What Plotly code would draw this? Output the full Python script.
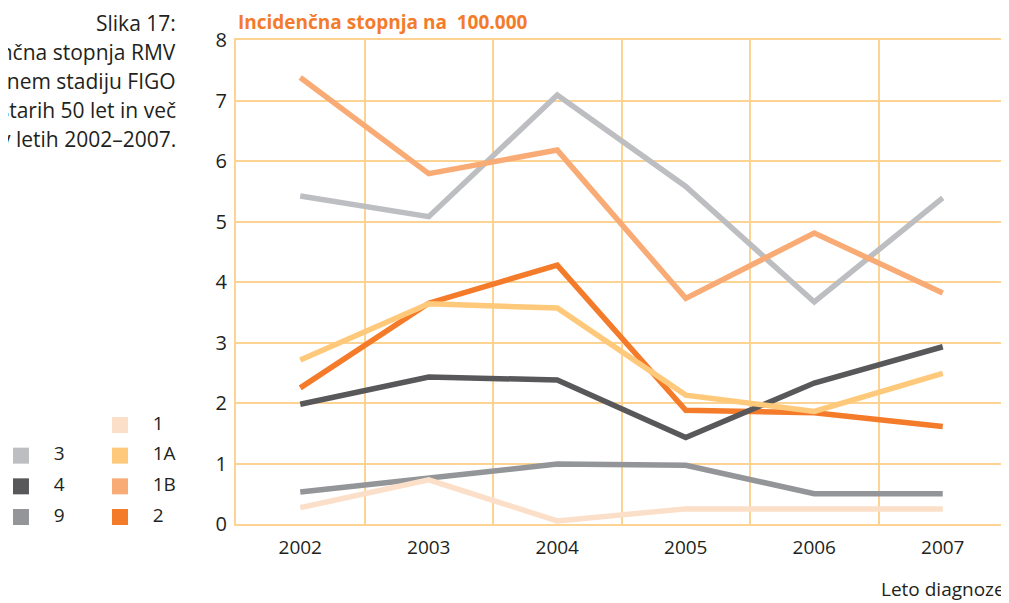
import plotly.graph_objects as go

# data
years = [2002, 2003, 2004, 2005, 2006, 2007]
stage_3 = [5.42, 5.08, 7.09, 5.58, 3.67, 5.39]
stage_1b = [7.38, 5.79, 6.18, 3.73, 4.81, 3.82]
stage_9 = [0.53, 0.77, 0.99, 0.97, 0.50, 0.50]
stage_1 = [0.27, 0.73, 0.05, 0.25, 0.25, 0.25]
stage_2 = [2.25, 3.65, 4.28, 1.88, 1.84, 1.61]
stage_4 = [1.98, 2.43, 2.38, 1.43, 2.33, 2.93]
stage_1a = [2.71, 3.64, 3.57, 2.13, 1.86, 2.49]
y_ticks = [0, 1, 2, 3, 4, 5, 6, 7, 8]

legend_left = ['3', '4', '9']
legend_right = ['1', '1A', '1B', '2']

caption = ['Slika 17:', 'Incidenčna stopnja RMV', 'v začetnem stadiju FIGO',
           'pri ženskah, starih 50 let in več', 'v letih 2002–2007.']

colors = {'1': '#FCDFC8', '1A': '#FEC97A', '1B': '#F9AB76', '2': '#F47B2A',
          '3': '#BDBEC1', '4': '#58585A', '9': '#939598'}
grid_color = '#FDD394'
text_color = '#231F20'
font = 'Myriad Pro, Open Sans, Noto Sans, sans-serif'

# the page adds an 8px body margin, so the figure is drawn 8px smaller
W, H = 1001, 595
PW, PH = 999, 484  # plotting paper size


def px_x(x):
    return (x - 8) / PW


def px_y(y):
    return (524 - y) / PH


fig = go.Figure()

# drawing order bottom -> top
series = [('3', stage_3), ('1B', stage_1b), ('9', stage_9), ('1', stage_1),
          ('2', stage_2), ('4', stage_4), ('1A', stage_1a)]
for name, vals in series:
    fig.add_trace(go.Scatter(x=years, y=vals, mode='lines', name=name, showlegend=False,
                             line=dict(color=colors[name], width=5.5), cliponaxis=False))

# legend drawn on a hidden helper axis
for col, keys, rows in [(0, legend_left, [1, 2, 3]), (1, legend_right, [0, 1, 2, 3])]:
    fig.add_trace(go.Scatter(x=[col] * len(keys), y=rows, xaxis='x2', yaxis='y2', mode='markers',
                             marker=dict(symbol='square', size=16, color=[colors[k] for k in keys]),
                             showlegend=False, hoverinfo='skip', cliponaxis=False))
    fig.add_trace(go.Scatter(x=[col + 0.33] * len(keys), y=rows, xaxis='x2', yaxis='y2',
                             mode='text', text=keys, textposition='middle right',
                             textfont=dict(size=19, color=text_color, family=font),
                             showlegend=False, hoverinfo='skip', cliponaxis=False))

annotations = [
    dict(text='<b>Incidenčna stopnja na\u00a0 100.000</b>', xref='paper', yref='paper',
         x=px_x(236), y=px_y(22), xanchor='left', yanchor='middle', showarrow=False,
         font=dict(size=19, color='#F47B2A', family=font)),
    dict(text='Leto diagnoze', xref='paper', yref='paper', x=px_x(1007), y=px_y(589),
         xanchor='right', yanchor='middle', showarrow=False,
         font=dict(size=19, color=text_color, family=font)),
]
for i, line in enumerate(caption):
    annotations.append(dict(text=line, xref='paper', yref='paper', x=px_x(178), y=px_y(23 + 29 * i),
                            xanchor='right', yanchor='middle', showarrow=False,
                            font=dict(size=21, color=text_color, family=font)))

fig.update_layout(
    width=W, height=H,
    margin=dict(l=0, r=W - PW, t=32, b=H - 32 - PH),
    paper_bgcolor='white', plot_bgcolor='white',
    font=dict(family=font, size=19, color=text_color),
    xaxis=dict(domain=[px_x(236), 1], range=[2001.5, 2007.5], tickvals=years, showgrid=False,
               zeroline=False, showline=True, mirror=True, linecolor=grid_color, linewidth=2,
               ticks='', tickfont=dict(size=19), ticklabelstandoff=5,
               minor=dict(tickvals=[2002.5, 2003.5, 2004.5, 2005.5, 2006.5],
                          showgrid=True, gridcolor=grid_color, gridwidth=1.5)),
    yaxis=dict(range=[0, 8], tickvals=y_ticks, showgrid=True, gridcolor=grid_color, gridwidth=1.5,
               zeroline=False, showline=True, mirror=True, linecolor=grid_color, linewidth=2,
               ticks='', tickfont=dict(size=20), ticklabelstandoff=3),
    xaxis2=dict(domain=[0, 0.2], range=[-0.131, 1.887], visible=False, anchor='y2'),
    yaxis2=dict(domain=[0, 0.25], range=[3.228, -0.717], visible=False, anchor='x2'),
    annotations=annotations,
)

fig.write_html("out.html")
